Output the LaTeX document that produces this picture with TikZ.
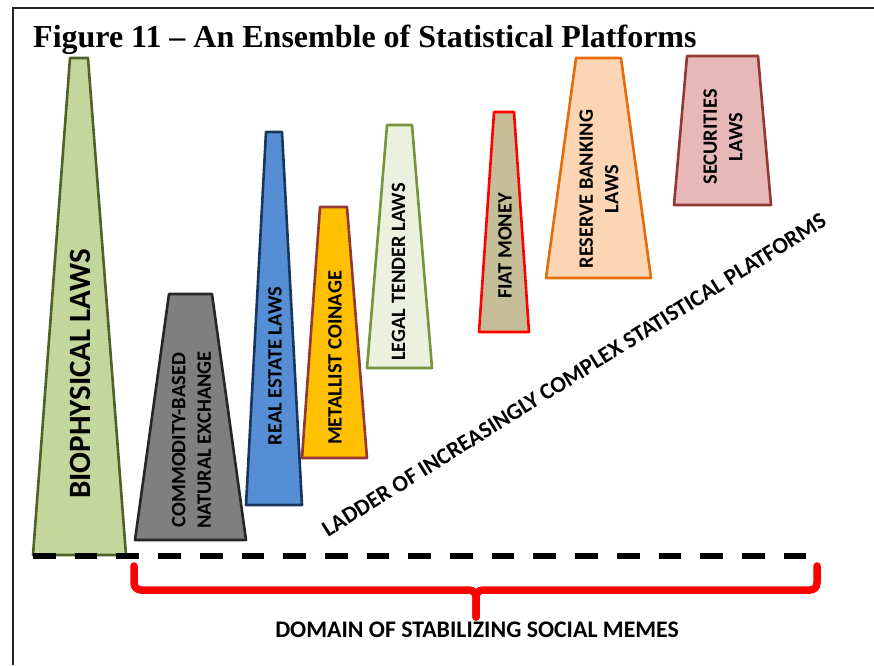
\documentclass[tikz,border=0pt]{standalone}
\usepackage{fontspec}
\setmainfont{Liberation Serif}
\newfontfamily\labfont{Carlito}
\definecolor{bioF}{HTML}{C3D69B}\definecolor{bioD}{HTML}{4F6228}
\definecolor{comF}{HTML}{7F7F7F}\definecolor{comD}{HTML}{262626}
\definecolor{reaF}{HTML}{558ED5}\definecolor{reaD}{HTML}{17375E}
\definecolor{metF}{HTML}{FFC000}\definecolor{metD}{HTML}{953735}
\definecolor{legF}{HTML}{EBF1DE}\definecolor{legD}{HTML}{77933C}
\definecolor{fiaF}{HTML}{C4BD97}\definecolor{fiaD}{HTML}{FF0000}
\definecolor{resF}{HTML}{FCD5B5}\definecolor{resD}{HTML}{E46C0A}
\definecolor{secF}{HTML}{E6B9B8}\definecolor{secD}{HTML}{953735}
\begin{document}
\begin{tikzpicture}[x=1pt,y=-1pt,
  plat/.style={line width=2.6pt,line join=round},
  lab/.style={font=\labfont\bfseries\fontsize{20.4}{25.5}\selectfont,rotate=90,align=center,inner sep=0pt},
  biglab/.style={font=\labfont\bfseries\fontsize{31}{37}\selectfont,rotate=90,inner sep=0pt},
  brace/.style={red,line width=7.5pt,rounded corners=7pt,line cap=round}]
\useasboundingbox (0,0) rectangle (874,665);
\fill[white] (0,0) rectangle (874,665);
% frame
\draw[line width=2pt,black!85] (874,8) -- (12.5,8) -- (12.5,665);
% title
\node[anchor=base west,inner sep=0pt,font=\bfseries\fontsize{32}{38}\selectfont] (title) at (33,47) {Figure 11 -- An Ensemble of Statistical Platforms};
% platforms
\draw[plat,draw=bioD,fill=bioF] (33,555) -- (126,555) -- (88,58) -- (70,58) -- cycle;
\draw[plat,draw=comD,fill=comF] (135,540) -- (246,540) -- (212,294) -- (169,294) -- cycle;
\draw[plat,draw=reaD,fill=reaF] (246,505) -- (302,505) -- (282,132) -- (266,132) -- cycle;
\draw[plat,draw=metD,fill=metF] (302,458) -- (367,458) -- (347,207) -- (320,207) -- cycle;
\draw[plat,draw=legD,fill=legF] (367,368) -- (432,368) -- (412,125) -- (387,125) -- cycle;
\draw[plat,draw=fiaD,fill=fiaF] (479,332) -- (529,332) -- (514,112) -- (494,112) -- cycle;
\draw[plat,draw=resD,fill=resF] (546,278) -- (651,278) -- (621,58) -- (576,58) -- cycle;
\draw[plat,draw=secD,fill=secF] (674,205) -- (771,205) -- (758,56) -- (687,56) -- cycle;
% labels
\node[biglab] (bio) at (80,374) {BIOPHYSICAL LAWS};
\node[lab] (com) at (191.5,440) {COMMODITY-BASED\\NATURAL EXCHANGE};
\node[lab] (rea) at (275,366) {REAL ESTATE LAWS};
\node[lab] (met) at (335,358) {METALLIST COINAGE};
\node[lab] (leg) at (398.5,272) {LEGAL TENDER LAWS};
\node[lab] (fia) at (505,246) {FIAT MONEY};
\node[lab] (res) at (599,189) {RESERVE BANKING\\LAWS};
\node[lab] (sec) at (723,137) {SECURITIES\\LAWS};
% ladder
\node[font=\labfont\bfseries\fontsize{23}{28}\selectfont,rotate=32,inner sep=0pt] (ladder) at (574,375) {LADDER OF INCREASINGLY COMPLEX STATISTICAL PLATFORMS};
% base line
\draw[line width=6pt,dash pattern=on 22.7pt off 19pt] (33,556) -- (806,556);
% brace
\coordinate (bl) at (134,566);
\coordinate (br) at (817,566);
\coordinate (bm) at (476,590);
\coordinate (bt) at (476,617);
\draw[brace] (bl) |- (bm) -- (bt);
\draw[brace] (br) |- (bm) -- (bt);
\node[font=\labfont\bfseries\fontsize{23.8}{28}\selectfont,inner sep=0pt] (dom) at (477,630) {DOMAIN OF STABILIZING SOCIAL MEMES};
\end{tikzpicture}
\end{document}
